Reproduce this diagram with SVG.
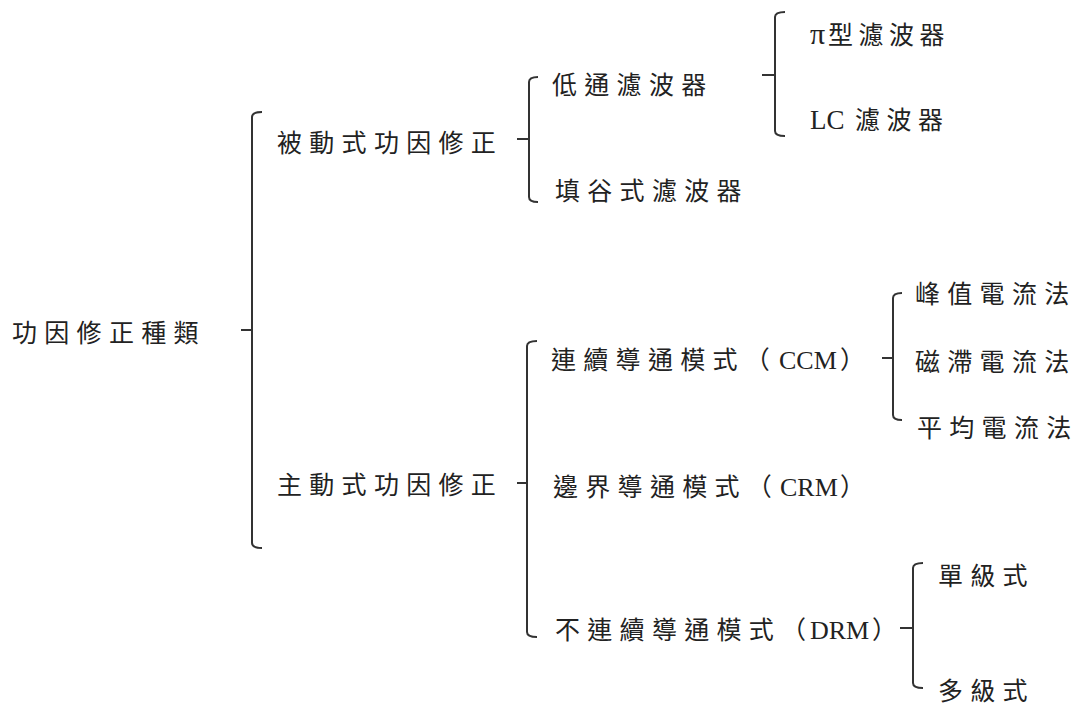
<svg xmlns="http://www.w3.org/2000/svg" width="1079" height="708" viewBox="0 0 1079 708">
<style>
.t{font-family:"Noto Sans CJK TC","Noto Sans CJK SC",sans-serif;font-size:25px;letter-spacing:7.3px;fill:#222}
.l{font-family:"Liberation Serif",serif;font-size:26px;letter-spacing:0;fill:#222}
.b{fill:none;stroke:#333;stroke-width:2}
</style>
<rect width="1079" height="708" fill="#fff"/>
<g id="connectors">
<path class="b" d="M262,112 Q252,112 252,117 V543 Q252,548 262,548 M241,330 H252"/>
<path class="b" d="M538,77 Q529,77 529,82 V197 Q529,202 538,202 M517,139 H529"/>
<path class="b" d="M785,12 Q775,12 775,17 V131 Q775,136 785,136 M762,75 H775"/>
<path class="b" d="M537,341 Q527,341 527,346 V632 Q527,637 537,637 M517,483 H527"/>
<path class="b" d="M902,293 Q893,293 893,298 V415 Q893,420 902,420 M882,358 H893"/>
<path class="b" d="M923,563 Q913,563 913,568 V683 Q913,688 923,688 M900,628 H913"/>
</g>
<g id="n_root"><text class="t" x="12" y="342">功因修正種類</text></g>
<g id="n_passive"><text class="t" x="277" y="152">被動式功因修正</text></g>
<g id="n_active"><text class="t" x="277" y="494">主動式功因修正</text></g>
<g id="n_lowpass"><text class="t" x="552" y="94">低通濾波器</text></g>
<g id="n_valley"><text class="t" x="555" y="200">填谷式濾波器</text></g>
<g id="n_pi"><text x="810" y="44"><tspan class="l" style="font-size:30px">π</tspan><tspan class="t" x="828" style="letter-spacing:5.5px">型濾波器</tspan></text></g>
<g id="n_lc"><text x="810" y="129"><tspan class="l" style="font-size:27px">LC</tspan><tspan class="t" x="855" style="letter-spacing:6.5px">濾波器</tspan></text></g>
<g id="n_ccm"><text x="551" y="369"><tspan class="t">連續導通模式（</tspan><tspan class="l" x="779">CCM</tspan><tspan class="t" x="840">）</tspan></text></g>
<g id="n_crm"><text x="553" y="496"><tspan class="t">邊界導通模式（</tspan><tspan class="l" x="780">CRM</tspan><tspan class="t" x="840">）</tspan></text></g>
<g id="n_drm"><text x="555" y="639"><tspan class="t">不連續導通模式（</tspan><tspan class="l" x="810">DRM</tspan><tspan class="t" x="872">）</tspan></text></g>
<g id="n_peak"><text class="t" x="915" y="303">峰值電流法</text></g>
<g id="n_hyst"><text class="t" x="915" y="371">磁滯電流法</text></g>
<g id="n_avg"><text class="t" x="917" y="437">平均電流法</text></g>
<g id="n_single"><text class="t" x="938" y="585">單級式</text></g>
<g id="n_multi"><text class="t" x="938" y="700">多級式</text></g>
</svg>
